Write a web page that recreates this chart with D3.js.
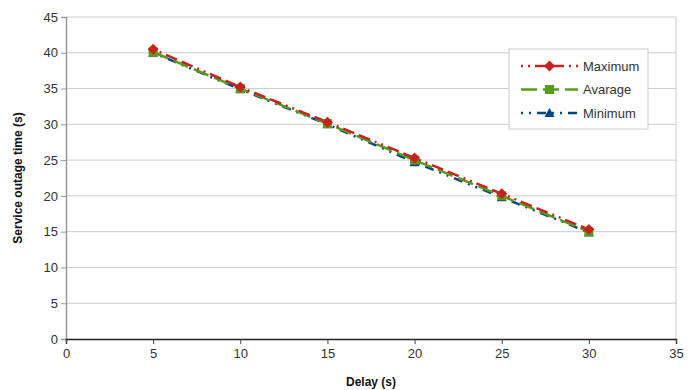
<!DOCTYPE html>
<html>
<head>
<meta charset="utf-8">
<script src="https://cdn.jsdelivr.net/npm/d3@7"></script>
<style>
  body { margin: 0; background: #fff; }
  svg { font-family: "Liberation Sans", Arial, sans-serif; }
</style>
</head>
<body>
<svg id="chart" width="696" height="390"></svg>
<script>
"use strict";

//Delay values on the x axis
var delays = [5, 10, 15, 20, 25, 30];
//Service outage time for each series
var maximum = [40.5, 35.2, 30.3, 25.3, 20.3, 15.3];
var avarage = [40.1, 35.0, 30.1, 25.0, 20.0, 15.0];
var minimum = [40.0, 34.9, 30.0, 24.7, 19.8, 14.9];
var seriesNames = ["Maximum", "Avarage", "Minimum"];
var xTicks = [0, 5, 10, 15, 20, 25, 30, 35];
var yTicks = [0, 5, 10, 15, 20, 25, 30, 35, 40, 45];

var svg = d3.select("#chart"),
    margin = {top: 17, right: 20, bottom: 51, left: 66},
    width = +svg.attr("width") - margin.left - margin.right,
    height = +svg.attr("height") - margin.top - margin.bottom,
    g = svg.append("g").attr("transform", "translate(" + margin.left + "," + margin.top + ")");

var x = d3.scaleLinear().domain([0, 35]).range([0, width]);
var y = d3.scaleLinear().domain([0, 45]).range([height, 0]);

//Horizontal grid lines
g.append("g")
  .selectAll("line")
  .data(yTicks.slice(1))
  .enter().append("line")
    .attr("x1", 0)
    .attr("x2", width)
    .attr("y1", function(d) { return y(d); })
    .attr("y2", function(d) { return y(d); })
    .attr("stroke", "#cccccc")
    .attr("stroke-width", 1);

//Right border
g.append("line")
  .attr("x1", width).attr("x2", width)
  .attr("y1", 0).attr("y2", height)
  .attr("stroke", "#cccccc");

//Axes
var yAxis = g.append("g")
  .call(d3.axisLeft(y).tickValues(yTicks).tickSize(5).tickPadding(3));
yAxis.select(".domain").attr("stroke", "#999").attr("stroke-width", 1.5);
yAxis.selectAll(".tick line").attr("stroke", "#999");
yAxis.selectAll("text").attr("font-size", "13px").attr("fill", "#333")
  .attr("font-family", "Liberation Sans, Arial, sans-serif");

var xAxis = g.append("g")
  .attr("transform", "translate(0," + height + ")")
  .call(d3.axisBottom(x).tickValues(xTicks).tickSize(5).tickPadding(5));
xAxis.select(".domain").attr("stroke", "#222").attr("stroke-width", 1.5);
xAxis.selectAll(".tick line").attr("stroke", "#444");
xAxis.selectAll("text").attr("font-size", "13px").attr("fill", "#333")
  .attr("font-family", "Liberation Sans, Arial, sans-serif");

//Axis titles
svg.append("text")
  .attr("x", margin.left + width / 2)
  .attr("y", 386)
  .attr("text-anchor", "middle")
  .attr("font-size", "12px")
  .attr("font-weight", "bold")
  .attr("fill", "#111")
  .text("Delay (s)");

svg.append("text")
  .attr("transform", "translate(22," + (margin.top + height / 2) + ") rotate(-90)")
  .attr("text-anchor", "middle")
  .attr("font-size", "12px")
  .attr("font-weight", "bold")
  .attr("fill", "#111")
  .text("Service outage time (s)");

//Series styles
var styles = [
  {color: "#c9211e", dash: "2,5,2,5,12,5,12,5", marker: "diamond", values: maximum},
  {color: "#579d1c", dash: "16,6", marker: "square", values: avarage},
  {color: "#004586", dash: "2,6,2,6,9,6", marker: "triangle", values: minimum}
];

function markerPath(type) {
  if (type == "diamond") return "M0,-5.5L5.5,0L0,5.5L-5.5,0Z";
  if (type == "square") return "M-4.5,-4.5H4.5V4.5H-4.5Z";
  return "M0,-5L5,4H-5Z";
}

var line = d3.line()
  .x(function(d, i) { return x(delays[i]); })
  .y(function(d) { return y(d); });

//Draw minimum first so maximum lies on top
[2, 1, 0].forEach(function(k) {
  var s = styles[k];
  g.append("path")
    .datum(s.values)
    .attr("fill", "none")
    .attr("stroke", s.color)
    .attr("stroke-width", 2.5)
    .attr("stroke-dasharray", s.dash)
    .attr("d", line);
});
[2, 1, 0].forEach(function(k) {
  var s = styles[k];
  g.append("g")
    .selectAll("path")
    .data(s.values)
    .enter().append("path")
      .attr("transform", function(d, i) { return "translate(" + x(delays[i]) + "," + y(d) + ")"; })
      .attr("d", markerPath(s.marker))
      .attr("fill", s.color);
});

//Legend
var legend = svg.append("g").attr("transform", "translate(509,49)");
legend.append("rect")
  .attr("width", 139)
  .attr("height", 80)
  .attr("fill", "#fff")
  .attr("stroke", "#cccccc");

seriesNames.forEach(function(name, k) {
  var s = styles[k];
  var ly = 17 + k * 23.5;
  legend.append("line")
    .attr("x1", 12).attr("x2", 69)
    .attr("y1", ly).attr("y2", ly)
    .attr("stroke", s.color)
    .attr("stroke-width", 2.5)
    .attr("stroke-dasharray", s.dash);
  legend.append("path")
    .attr("transform", "translate(40.5," + ly + ")")
    .attr("d", markerPath(s.marker))
    .attr("fill", s.color);
  legend.append("text")
    .attr("x", 74)
    .attr("y", ly + 4.5)
    .attr("font-size", "13px")
    .attr("fill", "#333")
    .text(name);
});
</script>
</body>
</html>
